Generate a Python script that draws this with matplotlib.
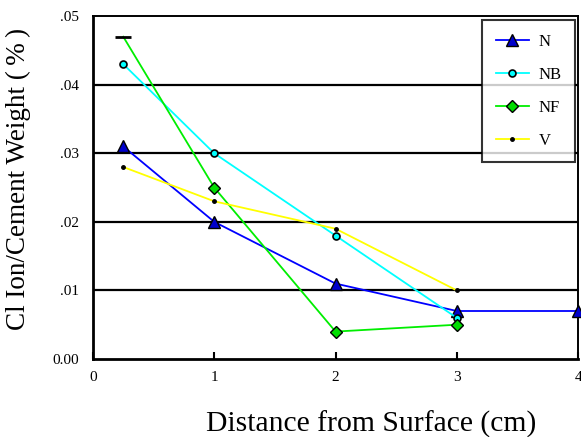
import matplotlib
matplotlib.use("Agg")
import matplotlib.pyplot as plt

plt.rcParams['font.family'] = ['Liberation Serif', 'DejaVu Serif']

x_N = [0.25, 1, 2, 3, 4]
y_N = [0.031, 0.020, 0.011, 0.007, 0.007]
x_NB = [0.25, 1, 2, 3]
y_NB = [0.043, 0.030, 0.018, 0.006]
x_NF = [0.25, 1, 2, 3]
y_NF = [0.047, 0.025, 0.004, 0.005]
x_V = [0.25, 1, 2, 3]
y_V = [0.028, 0.023, 0.019, 0.010]
yticks = [0.0, 0.01, 0.02, 0.03, 0.04, 0.05]
yticklabels = ['0.00', '.01', '.02', '.03', '.04', '.05']
xticks = [0, 1, 2, 3, 4]

fig = plt.figure(figsize=(5.81, 4.37), dpi=100)
ax = fig.add_axes([0.160, 0.1785, 0.835, 0.7845])

for y in yticks[1:-1]:
    ax.axhline(y, color='black', lw=1.6, zorder=1)

ax.plot(x_N, y_N, color='#0000ff', lw=1.3, marker='^', ms=9, mfc='#0000cc',
        mec='black', mew=1, label='N', clip_on=False, zorder=3)
ax.plot(x_NB, y_NB, color='#00ffff', lw=1.3, marker='o', ms=5, mfc='#00ffff',
        mec='black', mew=1.2, label='NB', clip_on=False, zorder=3)
ax.plot(x_NF, y_NF, color='#00ee00', lw=1.3, marker='D', ms=6.5, mfc='#00dd00',
        mec='black', mew=1, label='NF', markevery=[1, 2, 3], clip_on=False, zorder=3)
ax.plot(x_NF[:1], y_NF[:1], ls='none', marker='_', ms=11, mew=2, color='black', zorder=4)
ax.plot(x_V, y_V, color='#ffff00', lw=1.3, marker='o', ms=2.5, mfc='black',
        mec='black', label='V', clip_on=False, zorder=3)

ax.set_xlim(0, 4)
ax.set_ylim(0, 0.05)
ax.set_xticks(xticks)
ax.set_xticklabels([str(v) for v in xticks])
ax.set_yticks(yticks)
ax.set_yticklabels(yticklabels)
ax.tick_params(axis='x', direction='in', length=5, width=1.5, labelsize=11, pad=9)
ax.tick_params(axis='y', direction='out', length=0, width=1.5, labelsize=11, pad=10)

for s in ['left', 'bottom']:
    ax.spines[s].set_linewidth(2)
for s in ['top', 'right']:
    ax.spines[s].set_linewidth(1.4)

ax.set_xlabel('Distance from Surface (cm)', fontsize=21.3)
ax.xaxis.set_label_coords(0.573, -0.150)
ax.set_ylabel('Cl Ion/Cement Weight (\u2009%\u2009)', fontsize=19.5)
ax.yaxis.set_label_coords(-0.128, 0.525)

leg = ax.legend(loc='upper right', bbox_to_anchor=(0.994, 0.988), fontsize=12,
                frameon=True, fancybox=False, edgecolor='black', borderpad=0.8,
                labelspacing=1.03, handlelength=2.0, handletextpad=0.6,
                borderaxespad=0)
leg.get_frame().set_linewidth(1.5)

fig.savefig('out.png', dpi=100)
